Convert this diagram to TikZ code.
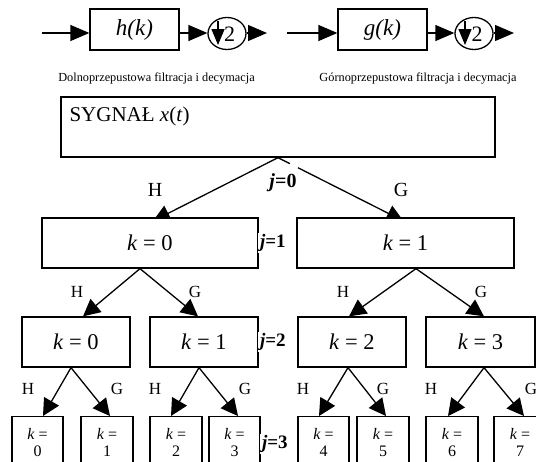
\documentclass[tikz,border=0pt]{standalone}
\usepackage{fontspec}
\setmainfont{Liberation Serif}
\usetikzlibrary{arrows.meta,shapes.geometric,calc}
\begin{document}
\begin{tikzpicture}[x=1pt,y=-1pt,
  box/.style={draw,line width=1.3pt,fill=white,inner sep=0pt,rectangle},
  ring/.style={draw,ellipse,line width=1.3pt,minimum width=38pt,minimum height=32pt,inner sep=0pt},
  arr/.style={line width=1.3pt,-{Triangle[length=17pt,width=17pt]}},
  arrs/.style={line width=1.3pt,-{Triangle[length=19pt,width=16pt]}},
  downarr/.style={line width=1.3pt,-{Triangle[length=16pt,width=13pt]}},
  lbig/.style={inner sep=0pt,font=\fontsize{20}{24}\selectfont},
  lsm/.style={inner sep=0pt,font=\fontsize{17}{20}\selectfont},
  kbig/.style={font=\fontsize{22.5}{26}\selectfont},
  ksm/.style={font=\fontsize{16}{17}\selectfont,align=center,anchor=north,minimum height=51pt},
  jl/.style={fill=white,inner xsep=2pt,inner ysep=1pt,font=\bfseries\fontsize{19}{22}\selectfont,anchor=west},
  dotl/.style={dotted,line width=1pt},
  captxt/.style={inner sep=0pt,font=\fontsize{12.3}{14}\selectfont},
  twotxt/.style={inner sep=0pt,font=\fontsize{22}{26}\selectfont}
  ]
\fill[white] (0,0) rectangle (536,461);
\useasboundingbox (0,0) rectangle (536,461);
\clip (0,0) rectangle (536,461);

% ---------- top row: filters ----------
\node[box,minimum width=89pt,minimum height=41pt,font=\itshape\fontsize{23}{27}\selectfont] (hk) at (134.5,29.5) {h(k)};
\node[ring] (c1) at (227,33.5) {};
\coordinate (in1) at (42,33);
\coordinate (out1) at (267,33);
\draw[arrs] (in1) -- (in1 -| hk.west);
\draw[arrs] (in1 -| hk.east) -- (in1 -| c1.west);
\draw[arrs] (in1 -| c1.east) -- (out1);
\draw[downarr] ($(c1.center)+(-9,-12.5)$) -- ($(c1.center)+(-9,11.5)$);
\node[twotxt] (t1) at ($(c1.center)+(2.5,1)$) {2};

\node[box,minimum width=89pt,minimum height=41pt,font=\itshape\fontsize{23}{27}\selectfont] (gk) at (382.5,29.5) {g(k)};
\node[ring] (c2) at (474,33.5) {};
\coordinate (in2) at (287,33);
\coordinate (out2) at (514,33);
\draw[arrs] (in2) -- (in2 -| gk.west);
\draw[arrs] (in2 -| gk.east) -- (in2 -| c2.west);
\draw[arrs] (in2 -| c2.east) -- (out2);
\draw[downarr] ($(c2.center)+(-9,-12.5)$) -- ($(c2.center)+(-9,11.5)$);
\node[twotxt] (t2) at ($(c2.center)+(3,1)$) {2};

\node[captxt] (cap1) at (156.5,78) {Dolnoprzepustowa filtracja i decymacja};
\node[captxt] (cap2) at (418,78) {Górnoprzepustowa filtracja i decymacja};

% ---------- signal ----------
\node[box,minimum width=434pt,minimum height=60pt] (sig) at (278,127) {};
\node[anchor=base west,inner sep=0pt,font=\fontsize{21}{25}\selectfont] (sigt) at ($(sig.north west)+(9,25)$) {SYGNAŁ \textit{x}(\textit{t})};

% ---------- level j=1 (arrows first, boxes drawn over the tips) ----------
\coordinate (p10) at (153,221);
\coordinate (p11) at (403.5,221);
\draw[arr] (sig.south) -- (p10);
\draw[arr,dash pattern=on 13.3pt off 9pt on 400pt] (sig.south) -- (p11);
\node[box,kbig,minimum width=216pt,minimum height=50pt] (k10) at ($(p10)+(-3,22)$) {\textit{k} = 0};
\node[box,kbig,minimum width=217pt,minimum height=50pt] (k11) at ($(p11)+(2,22)$) {\textit{k} = 1};
\node[lbig] (h0) at (155,190) {H};
\node[lbig] (g0) at (401,190) {G};
\node[fill=white,inner sep=1pt,font=\bfseries\fontsize{20}{24}\selectfont] (j0) at (283,183) {\textit{j}=0};

% ---------- level j=2 ----------
\node[box,kbig,minimum width=108pt,minimum height=50pt] (a0) at (76,342) {\textit{k} = 0};
\node[box,kbig,minimum width=108pt,minimum height=50pt] (a1) at (204,342) {\textit{k} = 1};
\node[box,kbig,minimum width=108pt,minimum height=50pt] (a2) at (352,342) {\textit{k} = 2};
\node[box,kbig,minimum width=109pt,minimum height=50pt] (a3) at (480.5,342) {\textit{k} = 3};
\draw[arr] ([xshift=-10pt]k10.south) -- ([xshift=7pt]a0.north);
\draw[arr] ([xshift=-10pt]k10.south) -- ([xshift=-6pt]a1.north);
\draw[arr] ([xshift=10.5pt]k11.south) -- ([xshift=-3pt]a2.north);
\draw[arr] ([xshift=10.5pt]k11.south) -- ([xshift=3.5pt]a3.north);
\node[lsm] (h10) at (77,292) {H};
\node[lsm] (g10) at (195,292) {G};
\node[lsm] (h11) at (343,292) {H};
\node[lsm] (g11) at (481,292) {G};

% ---------- level j=3 ----------
\node[box,ksm,minimum width=51pt] (b0) at (37.5,416) {\textit{k} =\\0};
\node[box,ksm,minimum width=52pt] (b1) at (107,416) {\textit{k} =\\1};
\node[box,ksm,minimum width=52pt] (b2) at (176,416) {\textit{k} =\\2};
\node[box,ksm,minimum width=51pt] (b3) at (234.5,416) {\textit{k} =\\3};
\node[box,ksm,minimum width=51pt] (b4) at (323.5,416) {\textit{k} =\\4};
\node[box,ksm,minimum width=52pt] (b5) at (383,416) {\textit{k} =\\5};
\node[box,ksm,minimum width=52pt] (b6) at (452,416) {\textit{k} =\\6};
\node[box,ksm,minimum width=52pt] (b7) at (520,416) {\textit{k} =\\7};
\draw[arr] ([xshift=-5pt]a0.south) -- ([xshift=5.5pt]b0.north);
\draw[arr] ([xshift=-5pt]a0.south) -- ([xshift=3pt]b1.north);
\draw[arr] ([xshift=-5pt]a1.south) -- ([xshift=-5pt]b2.north);
\draw[arr] ([xshift=-5pt]a1.south) -- ([xshift=3.5pt]b3.north);
\draw[arr] ([xshift=-4pt]a2.south) -- ([xshift=-4.5pt]b4.north);
\draw[arr] ([xshift=-4pt]a2.south) -- ([xshift=3pt]b5.north);
\draw[arr] ([xshift=3.5pt]a3.south) -- ([xshift=-4pt]b6.north);
\draw[arr] ([xshift=3.5pt]a3.south) -- ([xshift=4pt]b7.north);
\node[lsm] (h20) at (28,389) {H};
\node[lsm] (g20) at (117,389) {G};
\node[lsm] (h21) at (155,389) {H};
\node[lsm] (g21) at (245,389) {G};
\node[lsm] (h22) at (303,389) {H};
\node[lsm] (g22) at (383,389) {G};
\node[lsm] (h23) at (431,389) {H};
\node[lsm] (g23) at (531,389) {G};

% ---------- j labels ----------
\node[jl] (j1) at ([xshift=-0.8pt]k10.east) {\textit{j}=1};
\draw[dotl] (j1.north west) -- (j1.south west);
\node[jl] (j2) at ([xshift=-0.8pt]a1.east) {\textit{j}=2};
\draw[dotl] (j2.north west) -- (j2.south west);
\node[jl] (j3) at ([xshift=-0.8pt,yshift=-28pt]b3.north east) {\textit{j}=3};
\draw[dotl] (j3.north west) -- (j3.south west);
\end{tikzpicture}
\end{document}
